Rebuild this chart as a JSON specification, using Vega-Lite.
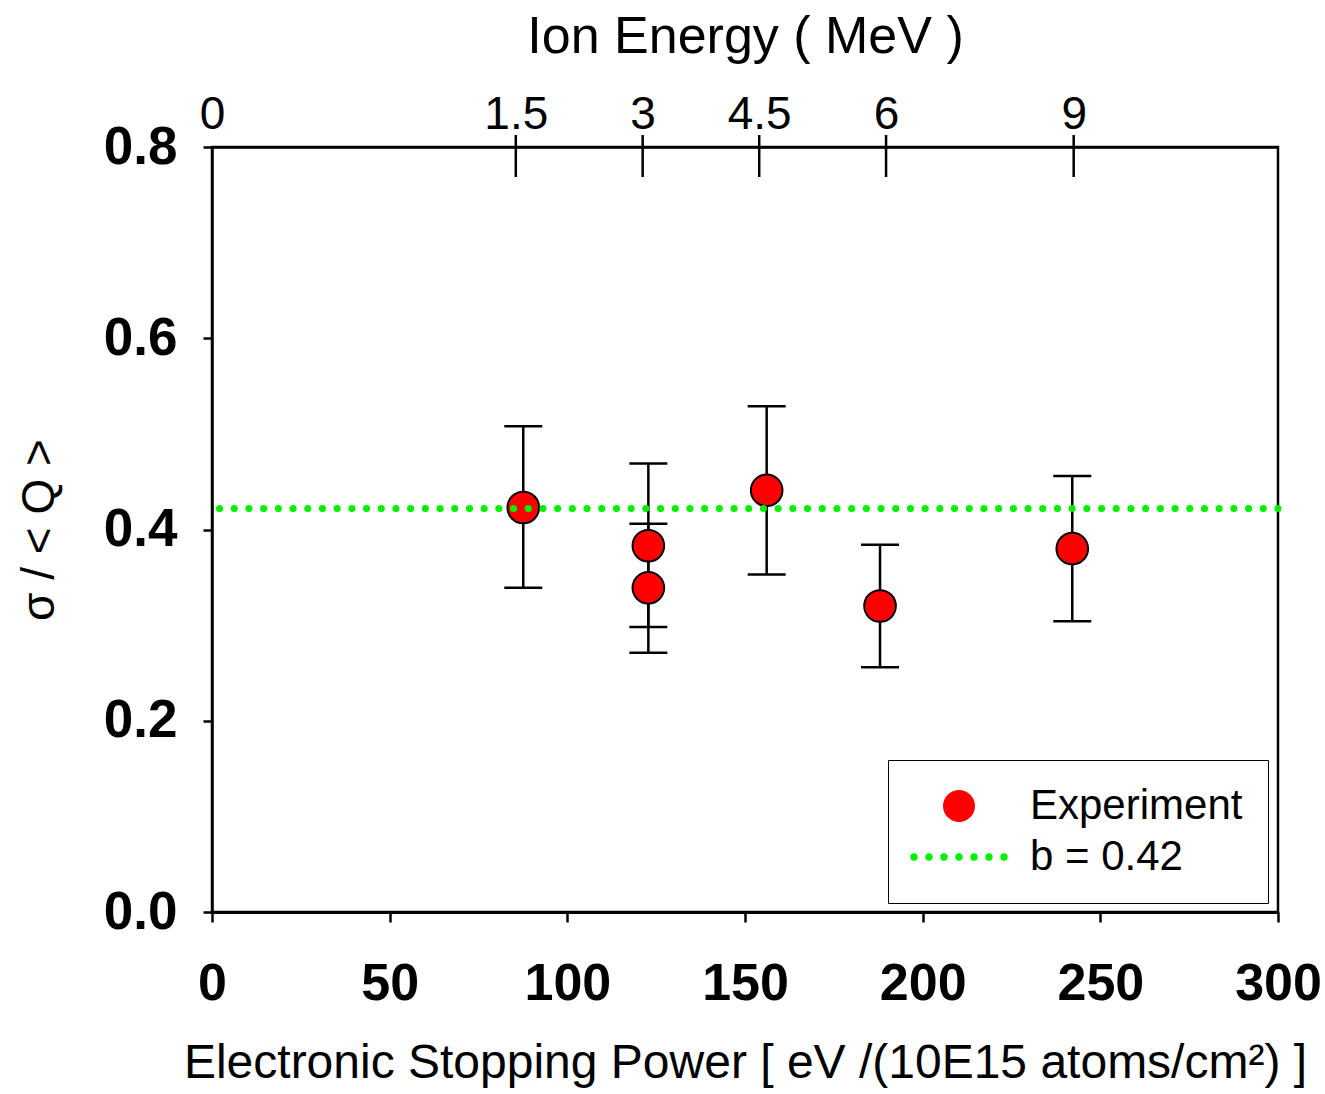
{
  "$schema": "https://vega.github.io/schema/vega-lite/v6.json",
  "width": 1066,
  "height": 765,
  "autosize": {"type": "none"},
  "padding": {"left": 212, "top": 147, "right": 47, "bottom": 182},
  "background": "white",
  "config": {
    "font": "Liberation Sans",
    "view": {"stroke": "black", "strokeWidth": 2.5},
    "axis": {"grid": false, "domainColor": "black", "tickColor": "black", "labelColor": "black", "titleColor": "black", "labelFont": "Liberation Sans", "titleFont": "Liberation Sans"},
    "axisY": {
      "format": ".1f",
      "tickSize": 9, "tickWidth": 2.5, "domainWidth": 2.5,
      "labelFontSize": 53, "labelFontWeight": "bold", "labelPadding": 26, "labelOverlap": false,
      "titleFontSize": 46, "titleFontWeight": "normal", "titlePadding": 40
    },
    "legend": {"labelFont": "Liberation Sans"}
  },
  "datasets": {
    "exp": [
      {"sp": 87.6, "r": 0.423, "lo": 0.339, "hi": 0.508, "series": "Experiment"},
      {"sp": 122.8, "r": 0.339, "lo": 0.271, "hi": 0.406, "series": "Experiment"},
      {"sp": 122.8, "r": 0.383, "lo": 0.298, "hi": 0.469, "series": "Experiment"},
      {"sp": 156.1, "r": 0.441, "lo": 0.353, "hi": 0.529, "series": "Experiment"},
      {"sp": 188.0, "r": 0.320, "lo": 0.256, "hi": 0.384, "series": "Experiment"},
      {"sp": 242.1, "r": 0.380, "lo": 0.304, "hi": 0.456, "series": "Experiment"}
    ],
    "energy": [
      {"E": "1.5", "sp": 85.5},
      {"E": "3", "sp": 121.2},
      {"E": "4.5", "sp": 154.0},
      {"E": "6", "sp": 189.7},
      {"E": "9", "sp": 242.5}
    ],
    "fit": [{"b": 0.422, "series": "b = 0.42"}]
  },
  "resolve": {"axis": {"x": "independent"}},
  "layer": [
    {
      "data": {"name": "exp"},
      "mark": {"type": "rule", "strokeWidth": 2.5, "color": "black"},
      "encoding": {
        "x": {"field": "sp", "type": "quantitative", "scale": {"domain": [0, 300], "nice": false}, "axis": null},
        "y": {"field": "lo", "type": "quantitative", "scale": {"domain": [0, 0.8], "nice": false}, "axis": {"title": "σ / < Q >", "values": [0, 0.2, 0.4, 0.6, 0.8]}},
        "y2": {"field": "hi"}
      }
    },
    {
      "data": {"name": "exp"},
      "mark": {"type": "tick", "orient": "horizontal", "size": 38, "thickness": 2.5, "color": "black", "opacity": 1},
      "encoding": {
        "x": {"field": "sp", "type": "quantitative", "scale": {"domain": [0, 300], "nice": false}, "axis": null},
        "y": {"field": "lo", "type": "quantitative", "scale": {"domain": [0, 0.8], "nice": false}, "axis": {"title": "σ / < Q >", "values": [0, 0.2, 0.4, 0.6, 0.8]}}
      }
    },
    {
      "data": {"name": "exp"},
      "mark": {"type": "tick", "orient": "horizontal", "size": 38, "thickness": 2.5, "color": "black", "opacity": 1},
      "encoding": {
        "x": {"field": "sp", "type": "quantitative", "scale": {"domain": [0, 300], "nice": false}, "axis": null},
        "y": {"field": "hi", "type": "quantitative", "scale": {"domain": [0, 0.8], "nice": false}, "axis": {"title": "σ / < Q >", "values": [0, 0.2, 0.4, 0.6, 0.8]}}
      }
    },
    {
      "data": {"name": "exp"},
      "mark": {"type": "point", "filled": true, "size": 1000, "stroke": "black", "strokeWidth": 2, "opacity": 1},
      "encoding": {
        "x": {
          "field": "sp", "type": "quantitative",
          "scale": {"domain": [0, 300], "nice": false},
          "axis": {
            "orient": "bottom", "values": [0, 50, 100, 150, 200, 250, 300],
            "tickSize": 10, "tickWidth": 2.5, "domainWidth": 3,
            "labelFontSize": 52, "labelFontWeight": "bold", "labelPadding": 36, "labelFlush": false, "labelOverlap": false,
            "title": "Electronic Stopping Power [ eV /(10E15 atoms/cm²) ]",
            "titleFontSize": 48, "titleFontWeight": "normal", "titlePadding": 30
          }
        },
        "y": {"field": "r", "type": "quantitative", "scale": {"domain": [0, 0.8], "nice": false}, "axis": {"title": "σ / < Q >", "values": [0, 0.2, 0.4, 0.6, 0.8]}},
        "color": {
          "field": "series", "type": "nominal",
          "scale": {"domain": ["Experiment", "b = 0.42"], "range": ["#ff0000", "#00f000"]},
          "legend": {
            "title": null, "orient": "none", "legendX": 676, "legendY": 613,
            "padding": 25, "strokeColor": "black",
            "labelFontSize": 42, "labelColor": "black", "labelOffset": 50, "labelLimit": 400, "rowPadding": 9,
            "symbolSize": 900, "symbolStrokeWidth": 2, "symbolOpacity": 1, "symbolOffset": 25
          }
        },
        "shape": {
          "field": "series", "type": "nominal",
          "scale": {"domain": ["Experiment", "b = 0.42"], "range": ["circle", "M-3.18,0a0.18,0.18 0 1,0 0.36,0a0.18,0.18 0 1,0 -0.36,0M-2.18,0a0.18,0.18 0 1,0 0.36,0a0.18,0.18 0 1,0 -0.36,0M-1.18,0a0.18,0.18 0 1,0 0.36,0a0.18,0.18 0 1,0 -0.36,0M-0.18,0a0.18,0.18 0 1,0 0.36,0a0.18,0.18 0 1,0 -0.36,0M0.82,0a0.18,0.18 0 1,0 0.36,0a0.18,0.18 0 1,0 -0.36,0M1.82,0a0.18,0.18 0 1,0 0.36,0a0.18,0.18 0 1,0 -0.36,0M2.82,0a0.18,0.18 0 1,0 0.36,0a0.18,0.18 0 1,0 -0.36,0"]},
          "legend": {
            "title": null, "orient": "none", "legendX": 676, "legendY": 613,
            "padding": 25, "strokeColor": "black",
            "labelFontSize": 42, "labelColor": "black", "labelOffset": 50, "labelLimit": 400, "rowPadding": 9,
            "symbolSize": 900, "symbolStrokeWidth": 2, "symbolOpacity": 1, "symbolOffset": 25
          }
        }
      }
    },
    {
      "data": {"name": "fit"},
      "mark": {"type": "rule", "strokeWidth": 7, "strokeCap": "round", "strokeDash": [0.1, 14.6]},
      "encoding": {
        "y": {"field": "b", "type": "quantitative", "scale": {"domain": [0, 0.8], "nice": false}, "axis": {"title": "σ / < Q >", "values": [0, 0.2, 0.4, 0.6, 0.8]}},
        "color": {"field": "series", "type": "nominal", "legend": null}
      }
    },
    {
      "data": {"name": "energy"},
      "mark": {"type": "rule", "strokeWidth": 2.5, "color": "black"},
      "encoding": {
        "x": {
          "field": "sp", "type": "quantitative",
          "scale": {"domain": [0, 300], "nice": false},
          "axis": {
            "orient": "top", "values": [0, 85.5, 121.2, 154.0, 189.7, 242.5],
            "labelExpr": "datum.value < 1 ? '0' : datum.value < 100 ? '1.5' : datum.value < 140 ? '3' : datum.value < 170 ? '4.5' : datum.value < 220 ? '6' : '9'",
            "ticks": false, "tickSize": 0, "domainWidth": 2.5,
            "labelFontSize": 46, "labelFontWeight": "normal", "labelPadding": 9, "labelFlush": false, "labelOverlap": false,
            "title": "Ion Energy ( MeV )", "titleFontSize": 52, "titleFontWeight": "normal", "titlePadding": 28
          }
        },
        "y": {"datum": 0.8125, "scale": {"domain": [0, 0.8], "nice": false}, "axis": {"title": "σ / < Q >", "values": [0, 0.2, 0.4, 0.6, 0.8]}},
        "y2": {"datum": 0.7686}
      }
    }
  ]
}
